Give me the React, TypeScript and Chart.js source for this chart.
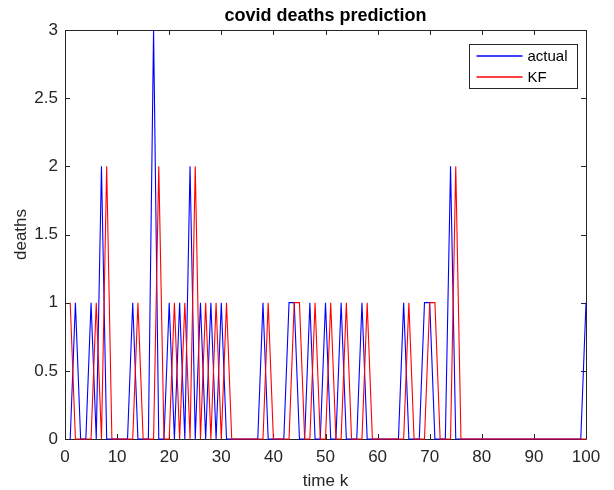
import React, { useEffect, useRef } from "react";
import { Chart, registerables } from "chart.js";

Chart.register(...registerables);

// time steps k = 1..100
const timeK: number[] = Array.from({ length: 100 }, (_, i) => i + 1);

const actualDeaths: number[] = [
  0, 1, 0, 0, 1, 0, 2, 0, 0, 0,
  0, 0, 1, 0, 0, 0, 3, 0, 0, 1,
  0, 1, 0, 2, 0, 1, 0, 1, 0, 1,
  0, 0, 0, 0, 0, 0, 0, 1, 0, 0,
  0, 0, 1, 1, 0, 0, 1, 0, 0, 1,
  0, 0, 1, 0, 0, 0, 1, 0, 0, 0,
  0, 0, 0, 0, 1, 0, 0, 0, 1, 1,
  0, 0, 0, 2, 0, 0, 0, 0, 0, 0,
  0, 0, 0, 0, 0, 0, 0, 0, 0, 0,
  0, 0, 0, 0, 0, 0, 0, 0, 0, 1,
];

const kfDeaths: number[] = [
  1, 0, 0, 0, 0, 1, 0, 2, 0, 0,
  0, 0, 0, 1, 0, 0, 0, 2, 0, 0,
  1, 0, 1, 0, 2, 0, 1, 0, 1, 0,
  1, 0, 0, 0, 0, 0, 0, 0, 1, 0,
  0, 0, 0, 1, 1, 0, 0, 1, 0, 0,
  1, 0, 0, 1, 0, 0, 0, 1, 0, 0,
  0, 0, 0, 0, 0, 1, 0, 0, 0, 1,
  1, 0, 0, 0, 2, 0, 0, 0, 0, 0,
  0, 0, 0, 0, 0, 0, 0, 0, 0, 0,
  0, 0, 0, 0, 0, 0, 0, 0, 0, 0,
];

const xTickMin = 0;
const xTickMax = 100;
const xTickStep = 10;
const yTickMin = 0;
const yTickMax = 3;
const yTickStep = 0.5;

const titleText = "covid deaths prediction";
const xLabel = "time k";
const yLabel = "deaths";
const seriesNames = ["actual", "KF"];
const seriesColors = ["#0000ff", "#ff0000"];

const FONT = '"Liberation Sans", Arial, Helvetica, sans-serif';
const AXIS_COLOR = "#262626";

const matlabPlugin = {
  id: "matlabBox",
  beforeDatasetsDraw(chart: any) {
    const { ctx, chartArea } = chart;
    const { left, right, top, bottom } = chartArea;
    ctx.save();
    ctx.strokeStyle = AXIS_COLOR;
    ctx.lineWidth = 1;
    ctx.beginPath();
    ctx.rect(Math.round(left) + 0.5, Math.round(top) + 0.5, Math.round(right - left), Math.round(bottom - top));
    ctx.stroke();
    const tl = 5;
    const xs = chart.scales.x;
    const ys = chart.scales.y;
    ctx.beginPath();
    xs.ticks.forEach((t: any) => {
      const px = Math.round(xs.getPixelForValue(t.value)) + 0.5;
      ctx.moveTo(px, bottom);
      ctx.lineTo(px, bottom - tl);
      ctx.moveTo(px, top);
      ctx.lineTo(px, top + tl);
    });
    ys.ticks.forEach((t: any) => {
      const py = Math.round(ys.getPixelForValue(t.value)) + 0.5;
      ctx.moveTo(left, py);
      ctx.lineTo(left + tl, py);
      ctx.moveTo(right, py);
      ctx.lineTo(right - tl, py);
    });
    ctx.stroke();
    ctx.restore();
  },
  afterDraw(chart: any) {
    const { ctx, chartArea } = chart;
    const { left, right, top } = chartArea;
    ctx.save();
    // title
    ctx.fillStyle = "#000000";
    ctx.font = `bold 18px ${FONT}`;
    ctx.textAlign = "center";
    ctx.textBaseline = "middle";
    ctx.fillText(titleText, (left + right) / 2, top - 14);

    // legend
    const lw = 108;
    const lh = 44;
    const lx = Math.round(right - 9 - lw) + 0.5;
    const ly = Math.round(top + 14) + 0.5;
    ctx.fillStyle = "#ffffff";
    ctx.fillRect(lx, ly, lw, lh);
    ctx.strokeStyle = AXIS_COLOR;
    ctx.lineWidth = 1;
    ctx.strokeRect(lx, ly, lw, lh);
    ctx.font = `15px ${FONT}`;
    ctx.textAlign = "left";
    ctx.textBaseline = "middle";
    seriesNames.forEach((name: string, i: number) => {
      const yy = Math.round(ly + 11 + i * 21);
      ctx.strokeStyle = seriesColors[i];
      ctx.lineWidth = 1.3;
      ctx.beginPath();
      ctx.moveTo(lx + 7, yy);
      ctx.lineTo(lx + 53, yy);
      ctx.stroke();
      ctx.fillStyle = "#000000";
      ctx.fillText(name, lx + 58, yy + 1);
    });
    ctx.restore();
  },
};

export default function App() {
  const canvasRef = useRef<HTMLCanvasElement | null>(null);

  useEffect(() => {
    const canvas = canvasRef.current;
    if (!canvas) return;
    const tickFont = { family: FONT, size: 17 };
    const fmt = (v: any) => String(Number(v));
    const chart = new Chart(canvas, {
      type: "line",
      data: {
        datasets: [
          {
            label: seriesNames[0],
            data: timeK.map((k, i) => ({ x: k, y: actualDeaths[i] })),
            borderColor: seriesColors[0],
            backgroundColor: seriesColors[0],
            borderWidth: 1.1,
            pointRadius: 0,
            tension: 0,
            clip: false as any,
            order: 1,
          },
          {
            label: seriesNames[1],
            data: timeK.map((k, i) => ({ x: k, y: kfDeaths[i] })),
            borderColor: seriesColors[1],
            backgroundColor: seriesColors[1],
            borderWidth: 1.1,
            pointRadius: 0,
            tension: 0,
            clip: false as any,
            order: 0,
          },
        ],
      },
      options: {
        responsive: false,
        animation: false,
        events: [],
        layout: { padding: { top: 30, right: 28, left: 0, bottom: 0 } },
        plugins: {
          legend: { display: false },
          title: { display: false },
          tooltip: { enabled: false },
        },
        scales: {
          x: {
            type: "linear",
            min: xTickMin,
            max: xTickMax,
            ticks: {
              stepSize: xTickStep,
              color: AXIS_COLOR,
              font: tickFont,
              padding: 8,
              maxRotation: 0,
              autoSkip: false,
              callback: fmt,
            },
            grid: { display: false, drawTicks: false, tickLength: 0 },
            border: { display: false },
            title: {
              display: true,
              text: xLabel,
              color: AXIS_COLOR,
              font: { family: FONT, size: 17, lineHeight: 1 },
              padding: { top: 0, bottom: 0 },
            },
            afterFit: (s: any) => {
              s.height = 51;
            },
          },
          y: {
            type: "linear",
            min: yTickMin,
            max: yTickMax,
            ticks: {
              stepSize: yTickStep,
              color: AXIS_COLOR,
              font: tickFont,
              padding: 7,
              callback: fmt,
            },
            grid: { display: false, drawTicks: false, tickLength: 0 },
            border: { display: false },
            title: {
              display: true,
              text: yLabel,
              color: AXIS_COLOR,
              font: { family: FONT, size: 17, lineHeight: 1 },
              padding: { top: 13, bottom: 0 },
            },
            afterFit: (s: any) => {
              s.width = 65;
            },
          },
        },
      },
      plugins: [matlabPlugin],
    });
    return () => chart.destroy();
  }, []);

  return (
    <div style={{ position: "fixed", left: 0, top: 0, width: 614, height: 490, background: "#ffffff" }}>
      <canvas ref={canvasRef} width={614} height={490} style={{ display: "block" }} />
    </div>
  );
}
